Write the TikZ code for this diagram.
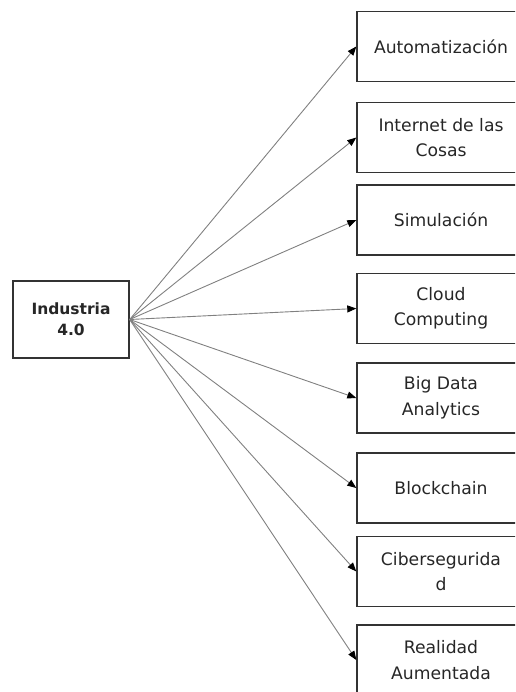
\documentclass[tikz,border=0pt]{standalone}
\usepackage{fontspec}
\setmainfont{DejaVu Sans}
\usetikzlibrary{arrows.meta}
\begin{document}
\begin{tikzpicture}[x=1pt,y=-1pt,
	topic/.style={shape=rectangle, draw=black!80, line width=1.4pt, minimum width=168pt, minimum height=70pt, inner sep=0pt, align=center, font=\fontsize{17.2}{25.5}\selectfont, text=black!85},
	link/.style={-{Triangle[length=9pt,width=7pt,color=black]}, draw=gray, line width=0.9pt}]
	\useasboundingbox (0,0) rectangle (515,692);
	\clip (0,0) rectangle (515,692);
	\draw (71,319.5) node[topic, minimum width=116pt, minimum height=77pt, font=\bfseries\fontsize{15.5}{21}\selectfont](ind){Industria\\4.0};
	
	\draw (441,46.5) node[topic](auto){Automatización};
	\draw (441,137.5) node[topic](iot){Internet de las\\Cosas};
	\draw (441,220) node[topic](sim){Simulación};
	\draw (441,308.5) node[topic](cloud){Cloud\\Computing};
	\draw (441,398) node[topic](bigdata){Big Data\\Analytics};
	\draw (441,488) node[topic](block){Blockchain};
	\draw (441,571.5) node[topic](ciber){Cibersegurida\\d};
	\draw (441,660) node[topic](ra){Realidad\\Aumentada};
	
	\draw [link](ind.east) -- (auto.west);
	\draw [link](ind.east) -- (iot.west);
	\draw [link](ind.east) -- (sim.west);
	\draw [link](ind.east) -- (cloud.west);
	\draw [link](ind.east) -- (bigdata.west);
	\draw [link](ind.east) -- (block.west);
	\draw [link](ind.east) -- (ciber.west);
	\draw [link](ind.east) -- (ra.west);
\end{tikzpicture}
\end{document}
